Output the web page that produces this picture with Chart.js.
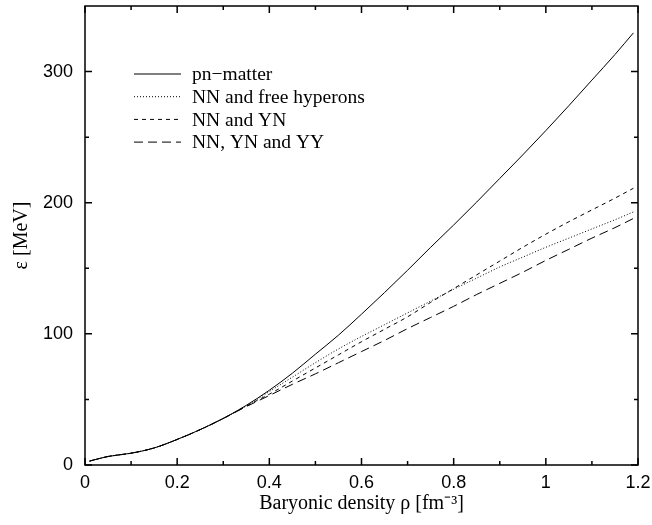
<!DOCTYPE html>
<html>
<head>
<meta charset="utf-8">
<script src="https://cdn.jsdelivr.net/npm/chart.js@4.4.1/dist/chart.umd.min.js"></script>
<style>
    html, body { margin: 0; padding: 0; background: #fff; }
</style>
</head>
<body>
<canvas id="eosChart" width="652" height="525"></canvas>
<script>
// Baryonic density rho [fm^-3]
const density = [0.01, 0.05, 0.1, 0.15, 0.2, 0.25, 0.3, 0.35, 0.4, 0.45, 0.5, 0.55, 0.6,
    0.65, 0.7, 0.75, 0.8, 0.85, 0.9, 0.95, 1.0, 1.05, 1.1, 1.15, 1.19];

// energy per baryon [MeV]
const pnMatter = [3, 6.5, 9, 13, 19.5, 27, 35.5, 45.5, 57, 70, 84.5, 99, 115,
    131.5, 148.5, 166, 183, 200.5, 218.5, 236.5, 255, 274, 293.5, 313, 329.5];
const freeHyperons = [3, 6.5, 9, 13, 19.5, 27, 35.5, 45, 56, 67, 78, 88.5, 98,
    107, 116, 125, 134, 142.5, 151, 158.5, 166, 173, 180, 187, 193];
const nnYn = [3, 6.5, 9, 13, 19.5, 27, 35.5, 45, 54, 64, 74, 84, 94,
    103.5, 113, 124, 134.5, 145, 155.5, 166, 176, 185.5, 194.5, 203.5, 211];
const nnYnYy = [3, 6.5, 9, 13, 19.5, 27, 35.5, 44.5, 53, 61.5, 69.5, 78, 86.5,
    95, 104, 112.5, 121, 130, 138.5, 147, 156, 164.5, 173, 181, 188];

const seriesLabels = ["pn\u2212matter", "NN and free hyperons", "NN and YN", "NN, YN and YY"];

// tick labels
const xTicks = [0, 0.2, 0.4, 0.6, 0.8, 1.0, 1.2];
const xTickLabels = ["0", "0.2", "0.4", "0.6", "0.8", "1", "1.2"];
const xMinorTicks = [0.1, 0.3, 0.5, 0.7, 0.9, 1.1];
const yTicks = [0, 100, 200, 300];
const yTickLabels = ["0", "100", "200", "300"];
const yMinorTicks = [50, 150, 250];

const dashes = [[], [1, 2], [4, 4], [9, 5]];
const seriesValues = [pnMatter, freeHyperons, nnYn, nnYnYy];

const serif = '"Liberation Serif", "Times New Roman", serif';
const sans = '"Liberation Sans", Arial, sans-serif';

const toPoints = vals => density.map((x, i) => ({ x: x, y: vals[i] }));

// frame with inward ticks (gnuplot style)
const framePlugin = {
    id: "frame",
    afterDraw(chart) {
        const { ctx, chartArea: a, scales } = chart;
        const xs = scales.x, ys = scales.y;
        ctx.save();
        ctx.strokeStyle = "#000";
        ctx.lineWidth = 1.5;
        ctx.strokeRect(a.left, a.top, a.right - a.left, a.bottom - a.top);

        ctx.beginPath();
        const tickX = (v, len) => {
            const px = xs.getPixelForValue(v);
            ctx.moveTo(px, a.bottom); ctx.lineTo(px, a.bottom - len);
            ctx.moveTo(px, a.top); ctx.lineTo(px, a.top + len);
        };
        const tickY = (v, len) => {
            const py = ys.getPixelForValue(v);
            ctx.moveTo(a.left, py); ctx.lineTo(a.left + len, py);
            ctx.moveTo(a.right, py); ctx.lineTo(a.right - len, py);
        };
        xTicks.forEach(v => tickX(v, 7));
        xMinorTicks.forEach(v => tickX(v, 4));
        yTicks.forEach(v => tickY(v, 7));
        yMinorTicks.forEach(v => tickY(v, 4));
        ctx.stroke();
        ctx.restore();
    }
};

// legend drawn inside the plot, top left
const legendPlugin = {
    id: "innerLegend",
    afterDatasetsDraw(chart) {
        const { ctx, chartArea: a } = chart;
        ctx.save();
        ctx.font = "19.5px " + serif;
        ctx.fillStyle = "#000";
        ctx.textBaseline = "middle";
        chart.data.datasets.forEach((ds, i) => {
            const y = 74 + i * 22.7;
            ctx.beginPath();
            ctx.setLineDash(ds.borderDash || []);
            ctx.strokeStyle = "#000";
            ctx.lineWidth = 1;
            ctx.moveTo(a.left + 49, y);
            ctx.lineTo(a.left + 96, y);
            ctx.stroke();
            ctx.setLineDash([]);
            ctx.fillText(ds.label, a.left + 107, y + 1);
        });
        ctx.restore();
    }
};

const ctx = document.getElementById("eosChart").getContext("2d");

new Chart(ctx, {
    type: "line",
    data: {
        datasets: seriesValues.map((vals, i) => ({
            label: seriesLabels[i],
            data: toPoints(vals),
            borderColor: "#000",
            borderWidth: 1,
            borderDash: dashes[i],
            pointRadius: 0,
            cubicInterpolationMode: "monotone",
            fill: false
        }))
    },
    options: {
        responsive: false,
        animation: false,
        layout: { padding: { top: 6, right: 14, left: 0, bottom: 0 } },
        plugins: {
            legend: { display: false },
            tooltip: { enabled: false }
        },
        scales: {
            x: {
                type: "linear",
                min: 0,
                max: 1.2,
                grid: { display: false, drawTicks: false },
                border: { display: false },
                afterBuildTicks: s => { s.ticks = xTicks.map(v => ({ value: v })); },
                afterFit: s => { s.height = 60; s.paddingLeft = 0; s.paddingRight = 0; },
                ticks: {
                    padding: 7,
                    color: "#000",
                    maxRotation: 0,
                    font: { family: sans, size: 18 },
                    callback: (v, i) => xTickLabels[i]
                },
                title: {
                    display: true,
                    text: "Baryonic density \u03c1 [fm\u207b\u00b3]",
                    color: "#000",
                    padding: { top: 0, bottom: 9 },
                    font: { family: serif, size: 20 }
                }
            },
            y: {
                type: "linear",
                min: 0,
                max: 350,
                grid: { display: false, drawTicks: false },
                border: { display: false },
                afterBuildTicks: s => { s.ticks = yTicks.map(v => ({ value: v })); },
                afterFit: s => { s.width = 85; s.paddingTop = 0; s.paddingBottom = 0; },
                ticks: {
                    padding: 12,
                    color: "#000",
                    font: { family: sans, size: 18 },
                    callback: (v, i) => yTickLabels[i]
                },
                title: {
                    display: true,
                    text: "\u03b5 [MeV]",
                    color: "#000",
                    padding: { top: 10, bottom: 0 },
                    font: { family: serif, size: 20 }
                }
            }
        }
    },
    plugins: [framePlugin, legendPlugin]
});
</script>
</body>
</html>
